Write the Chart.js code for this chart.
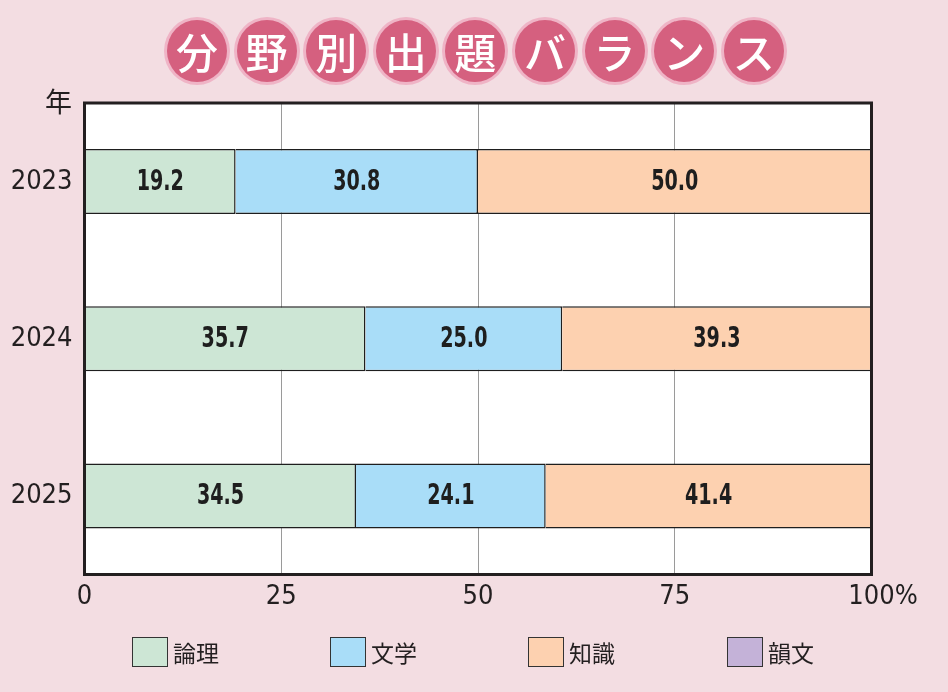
<!DOCTYPE html>
<html lang="ja">
<head>
<meta charset="utf-8">
<script src="https://cdn.jsdelivr.net/npm/chart.js@4.4.1/dist/chart.umd.min.js"></script>
<style>
  html,body{margin:0;padding:0;background:#f3dde2;}
  #wrap{position:relative;width:948px;height:692px;overflow:hidden;background:#f3dde2;}
  #c{position:absolute;left:0;top:0;}
  #title{position:absolute;left:167px;top:20px;height:64px;display:flex;gap:9.6px;}
  #title span{display:block;width:60px;height:62px;border-radius:50%;background:#d5607f;
    box-shadow:0 0 0 3px #efb4c6;color:#fff;font-family:"Noto Sans CJK JP";font-weight:500;
    font-size:42px;line-height:62px;text-align:center;}
  #nen{position:absolute;right:876px;top:84px;font-family:"Noto Sans CJK JP";font-size:27px;color:#231f20;line-height:34px;}
  #legend{position:absolute;left:0;top:637px;width:948px;height:30px;}
  .li{position:absolute;top:0;height:30px;display:flex;align-items:center;}
  .li i{display:block;width:34px;height:28px;border:1px solid #333;box-sizing:content-box;margin-right:5px;}
  .li b{font-weight:normal;font-family:"Noto Sans CJK JP";font-size:23px;color:#231f20;line-height:30px;}
</style>
</head>
<body>
<div id="wrap">
  <canvas id="c" width="948" height="692"></canvas>
  <div id="title"></div>
  <div id="nen">年</div>
  <div id="legend"></div>
</div>
<script>
const titleText = "分野別出題バランス";
const years = ["2023", "2024", "2025"];
const seriesNames = ["論理", "文学", "知識", "韻文"];
const ronri = [19.2, 35.7, 34.5];
const bungaku = [30.8, 25.0, 24.1];
const chishiki = [50.0, 39.3, 41.4];
const inbun = [0, 0, 0];
const xTicks = [0, 25, 50, 75, 100];
const colors = ["#cde6d5", "#a9ddf8", "#fdd1b0", "#c4b2d8"];

const FAM = '"Liberation Sans Narrow", "DejaVu Sans Condensed", "Liberation Sans", sans-serif';

// title
const t = document.getElementById('title');
for (const ch of titleText) { const s = document.createElement('span'); s.textContent = ch; t.appendChild(s); }
// legend
const lg = document.getElementById('legend');
const legX = [132, 330, 528, 727];
seriesNames.forEach((n, i) => {
  const d = document.createElement('div'); d.className = 'li'; d.style.left = legX[i] + 'px';
  d.innerHTML = '<i style="background:' + colors[i] + '"></i><b>' + n + '</b>';
  lg.appendChild(d);
});

const plotBg = {
  id: 'plotBg',
  beforeDraw(chart) {
    const a = chart.chartArea, ctx = chart.ctx;
    ctx.save(); ctx.fillStyle = '#ffffff';
    ctx.fillRect(a.left, a.top, a.right - a.left, a.bottom - a.top);
    ctx.restore();
  },
  afterDatasetsDraw(chart) {
    const ctx = chart.ctx, a = chart.chartArea;
    ctx.save();
    ctx.font = 'bold 28px ' + FAM;
    ctx.fillStyle = '#1e1e1e'; ctx.textAlign = 'center'; ctx.textBaseline = 'middle';
    chart.data.datasets.forEach((ds, di) => {
      const meta = chart.getDatasetMeta(di);
      meta.data.forEach((bar, i) => {
        const v = ds.data[i];
        if (!v) return;
        const cx = (bar.x + bar.base) / 2;
        ctx.save();
        ctx.translate(cx, bar.y + 1);
        ctx.scale(0.76, 1);
        ctx.fillText(v.toFixed(1), 0, 0);
        ctx.restore();
      });
    });
    ctx.lineWidth = 3; ctx.strokeStyle = '#231f20';
    ctx.strokeRect(a.left, a.top, a.right - a.left, a.bottom - a.top);
    // percent sign after last tick
    const xs = chart.scales.x;
    ctx.font = '27px ' + FAM;
    const px = xs.getPixelForValue(100);
    const w = ctx.measureText('100').width;
    ctx.textAlign = 'left'; ctx.textBaseline = 'middle';
    ctx.fillText('%', px + w / 2, a.bottom + 6 + 16.2);
    ctx.restore();
  }
};

new Chart(document.getElementById('c'), {
  type: 'bar',
  data: {
    labels: years,
    datasets: [
      { label: seriesNames[0], data: ronri, backgroundColor: colors[0], borderColor: '#1e1e1e', borderWidth: 1.5 },
      { label: seriesNames[1], data: bungaku, backgroundColor: colors[1], borderColor: '#1e1e1e', borderWidth: 1.5 },
      { label: seriesNames[2], data: chishiki, backgroundColor: colors[2], borderColor: '#1e1e1e', borderWidth: 1.5 },
      { label: seriesNames[3], data: inbun, backgroundColor: colors[3], borderColor: '#1e1e1e', borderWidth: 0 }
    ]
  },
  options: {
    indexAxis: 'y',
    responsive: false,
    animation: false,
    devicePixelRatio: 1,
    layout: { padding: { top: 103, right: 76.5, left: 0, bottom: 0 } },
    plugins: { legend: { display: false }, tooltip: { enabled: false } },
    datasets: { bar: { categoryPercentage: 1, barPercentage: 0.414 } },
    scales: {
      x: {
        stacked: true, min: 0, max: 100,
        afterBuildTicks(s) { s.ticks = xTicks.map(v => ({ value: v })); },
        afterFit(s) { s.height = 117.5; },
        grid: { color: (c) => (c.tick && (c.tick.value === 0 || c.tick.value === 100)) ? 'rgba(0,0,0,0)' : '#9a9a9a', lineWidth: 1, drawTicks: false },
        border: { display: false },
        ticks: { padding: 6, color: '#231f20', font: { family: FAM, size: 27 }, maxRotation: 0, callback: (v) => String(v) }
      },
      y: {
        stacked: true,
        afterFit(s) { s.width = 84.5; },
        grid: { display: false, drawTicks: false },
        border: { display: false },
        ticks: { padding: 12, color: '#231f20', font: { family: FAM, size: 27 } }
      }
    }
  },
  plugins: [plotBg]
});
</script>
</body>
</html>
